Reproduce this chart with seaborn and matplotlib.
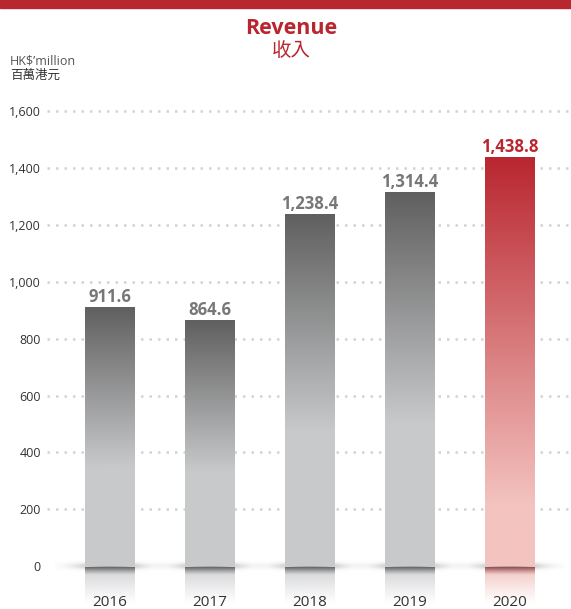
import numpy as np
import pandas as pd
import matplotlib
matplotlib.use('Agg')
import matplotlib.pyplot as plt
import seaborn as sns
from matplotlib.colors import to_rgb
from matplotlib.patches import Rectangle

# ---------------- data ----------------
years = ['2016', '2017', '2018', '2019', '2020']
revenue = [911.6, 864.6, 1238.4, 1314.4, 1438.8]
value_labels = ['911.6', '864.6', '1,238.4', '1,314.4', '1,438.8']
yticks = [0, 200, 400, 600, 800, 1000, 1200, 1400, 1600]
ytick_labels = ['0', '200', '400', '600', '800', '1,000', '1,200', '1,400', '1,600']
title_en = 'Revenue'
title_zh = '收入'
unit_en = r'HK\$’million'
unit_zh = '百萬港元'

RED = '#b8272f'
sns.set_theme(style='white')
plt.rcParams['font.family'] = ['Open Sans', 'Noto Sans CJK TC', 'DejaVu Sans']

W, H = 571, 609
fig = plt.figure(figsize=(W / 100, H / 100), dpi=100)
ylo, yhi = -150, 1640
ax = fig.add_axes([45 / W, 0, 526 / W, 1 - 99.6 / H])

df = pd.DataFrame({'year': years, 'revenue': revenue})
sns.barplot(data=df, x='year', y='revenue', ax=ax, width=0.5, color='#999999',
            saturation=1, errorbar=None, zorder=3)

ax.set_xlim(-0.65, 4.61)
ax.set_ylim(ylo, yhi)


def grad(c_top, c_bot, frac, n=256):
    t = np.linspace(0, 1, n)
    s = np.clip(t / frac, 0, 1)
    a = np.array(to_rgb(c_top)); b = np.array(to_rgb(c_bot))
    return (a[None, :] * (1 - s[:, None]) + b[None, :] * s[:, None])[:, None, :]


for i, p in enumerate(ax.patches):
    x0, w, h = p.get_x(), p.get_width(), p.get_height()
    is_last = (i == len(ax.patches) - 1)
    if is_last:
        img = grad('#b9262f', '#f3c3bf', 0.85)
        ref_top, ref_mid = '#9a4a4e', '#f1c2be'
    else:
        img = grad('#5f5f5f', '#c8c9cb', 0.62)
        ref_top, ref_mid = '#666666', '#cfd0d2'
    im = ax.imshow(img, extent=[x0, x0 + w, 0, h], origin='upper',
                   aspect='auto', zorder=3, interpolation='bilinear')
    im.set_clip_path(p)
    p.set_facecolor('none'); p.set_edgecolor('none')

    # soft shadow at base
    nx, ny = 200, 60
    gx = np.linspace(-1, 1, nx)
    gy = np.linspace(-1, 1, ny)
    X, Y = np.meshgrid(gx, gy)
    alpha = 0.7 * np.exp(-(X ** 2 / 0.30 + Y ** 2 / 0.15))
    sh = np.zeros((ny, nx, 4))
    sh[..., :3] = to_rgb('#7a7a7a')
    sh[..., 3] = alpha
    ax.imshow(sh, extent=[i - 0.55, i + 0.55, -28, 28], origin='upper',
              aspect='auto', zorder=2, interpolation='bilinear')

    # reflection below zero
    n = 128
    t = np.linspace(0, 1, n)
    a = np.array(to_rgb(ref_top)); b = np.array(to_rgb(ref_mid))
    s = np.clip(t / 0.2, 0, 1)
    rgb = a[None, :] * (1 - s[:, None]) + b[None, :] * s[:, None]
    al = np.clip(1 - t, 0, 1) ** 1.2
    ref = np.zeros((n, 1, 4))
    ref[:, 0, :3] = rgb
    ref[:, 0, 3] = al
    ax.imshow(ref, extent=[x0, x0 + w, -135, -4], origin='upper',
              aspect='auto', zorder=4, interpolation='bilinear')

    ax.text(i, revenue[i] + 17, value_labels[i], ha='center', va='baseline',
            fontsize=12, fontweight='bold', color=RED if is_last else '#777777',
            zorder=6)
    ax.text(i, -127, years[i], ha='center', va='center', fontsize=11,
            color='#333333', zorder=6)

ax.set_xlim(-0.65, 4.61)
ax.set_ylim(ylo, yhi)

ax.hlines(yticks[1:], -0.63, 4.61, colors='#d3d3d3', linewidth=1.8,
          linestyles=(0, (1, 2.4)), zorder=1)

ax.set_yticks(yticks, ytick_labels)
ax.tick_params(axis='y', length=0, pad=3, labelsize=9, labelcolor='#333333')
ax.set_xticks([])
ax.set_xlabel('')
ax.set_ylabel('')
for s in ax.spines.values():
    s.set_visible(False)
ax.set_facecolor('none')

fig.add_artist(Rectangle((0, 1 - 8 / H), 1, 8 / H, transform=fig.transFigure,
                         color=RED, zorder=10))
fig.text(291 / W, 1 - 28 / H, title_en, ha='center', va='center', fontsize=15.5,
         fontweight='bold', color=RED)
fig.text(291 / W, 1 - 51 / H, title_zh, ha='center', va='center', fontsize=14,
         color=RED)
fig.text(10 / W, 1 - 61 / H, unit_en, ha='left', va='center', fontsize=9,
         color='#555555')
fig.text(10 / W, 1 - 75 / H, unit_zh, ha='left', va='center', fontsize=9,
         color='#333333')

fig.savefig('out.png', dpi=100)
